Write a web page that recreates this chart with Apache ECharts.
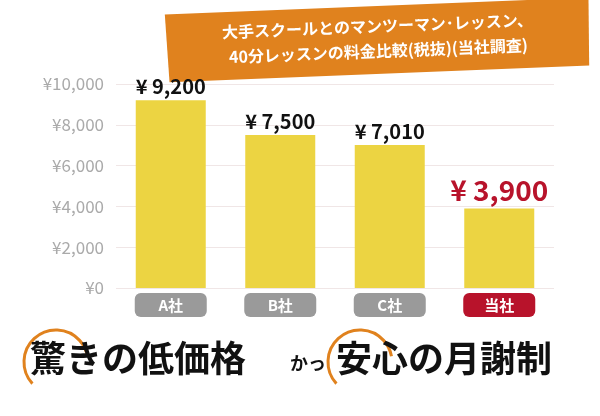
<!DOCTYPE html>
<html><head><meta charset="utf-8">
<script src="https://cdn.jsdelivr.net/npm/echarts@6/dist/echarts.min.js"></script>
<style>html,body{margin:0;background:#fff}#main{width:600px;height:416px}</style>
</head><body><div id="main"></div>
<script>
var companies = ['A社', 'B社', 'C社', '当社'];
var prices = [9200, 7500, 7010, 3900];
var yTicks = [0, 2000, 4000, 6000, 8000, 10000];

var font = '"Noto Sans CJK JP", "Noto Sans", sans-serif';
var chart = echarts.init(document.getElementById('main'));

function yen(v){ return '¥' + v.toLocaleString('en-US'); }

var option = {
  animation: false,
  textStyle: { fontFamily: font },
  grid: { left: 116, right: 46, top: 84, bottom: 128 },
  xAxis: {
    type: 'category',
    data: companies,
    axisLine: { show: false },
    axisTick: { show: false },
    axisLabel: {
      margin: 5,
      formatter: function (v, i) { return i === 3 ? '{own|' + v + '}' : '{tag|' + v + '}'; },
      rich: {
        tag: { backgroundColor: '#9a9a9a', color: '#fff', fontSize: 15, fontWeight: 'bold',
               width: 72, height: 24, align: 'center', borderRadius: 6, fontFamily: font },
        own: { backgroundColor: '#b8132b', color: '#fff', fontSize: 15, fontWeight: 'bold',
               width: 72, height: 24, align: 'center', borderRadius: 6, fontFamily: font }
      }
    }
  },
  yAxis: {
    type: 'value', min: 0, max: yTicks[yTicks.length - 1], interval: 2000,
    axisLabel: { color: '#aaa', fontSize: 17, margin: 12, formatter: function (v) { return '¥' + v.toLocaleString('en-US'); } },
    splitLine: { lineStyle: { color: '#f0e6e6' } }
  },
  series: [{
    type: 'bar', barWidth: 70,
    data: prices.map(function (v, i) {
      return {
        value: v,
        label: i === 3
          ? { color: '#b8132b', fontSize: 28, fontWeight: 'bold' }
          : { color: '#111', fontSize: 20, fontWeight: 'bold' }
      };
    }),
    itemStyle: { color: '#ecd442' },
    label: { show: true, position: 'top', distance: 4, fontFamily: font,
             formatter: function (p) { return '¥ ' + p.value.toLocaleString('en-US'); } }
  }],
  graphic: [
    { type: 'group', x: 378, y: 40, rotation: 0.04, children: [
      { type: 'polygon', shape: { points: [[-212, -34], [212, -34], [210, 34], [-210, 34]] },
        style: { fill: '#e0821e' } },
      { type: 'text', x: 0, y: -14, style: { text: '大手スクールとのマンツーマン･レッスン、', fill: '#fff',
        font: 'bold 16px ' + font, textAlign: 'center', textVerticalAlign: 'middle' } },
      { type: 'text', x: 0, y: 11, style: { text: '40分レッスンの料金比較(税抜)(当社調査)', fill: '#fff',
        font: 'bold 16px ' + font, textAlign: 'center', textVerticalAlign: 'middle' } }
    ]},
    { type: 'arc', shape: { cx: 56, cy: 362, r: 32, startAngle: 2.4, endAngle: 6.1 },
      style: { stroke: '#e0821e', lineWidth: 3, fill: null } },
    { type: 'arc', shape: { cx: 360, cy: 362, r: 32, startAngle: 2.4, endAngle: 6.1 },
      style: { stroke: '#e0821e', lineWidth: 3, fill: null } },
    { type: 'text', left: 30, top: 340, style: { text: '驚きの低価格', fill: '#111',
      font: 'bold 36px ' + font } },
    { type: 'text', left: 290, top: 354, style: { text: 'かっ', fill: '#111',
      font: 'bold 18px ' + font } },
    { type: 'text', left: 336, top: 340, style: { text: '安心の月謝制', fill: '#111',
      font: 'bold 36px ' + font } }
  ]
};
chart.setOption(option);
</script>
</body></html>
